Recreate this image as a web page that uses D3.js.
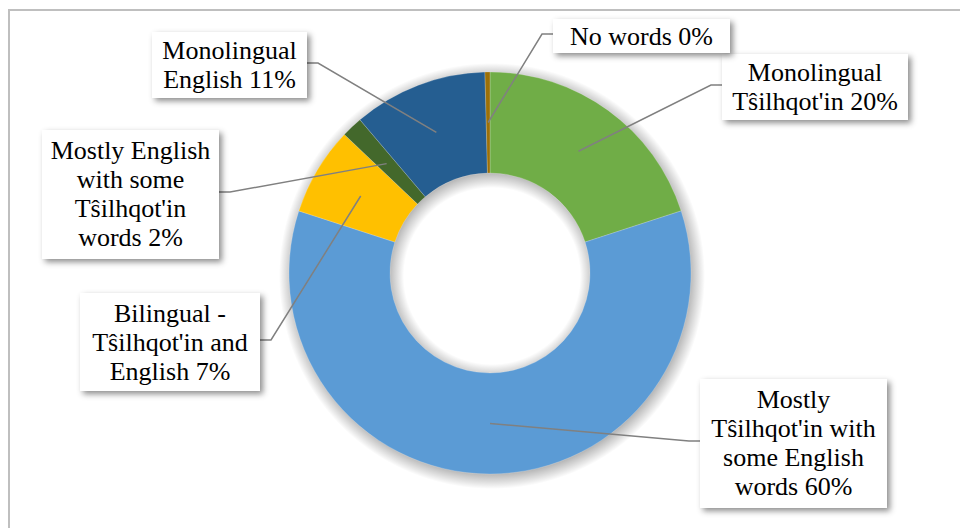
<!DOCTYPE html>
<html>
<head>
<meta charset="utf-8">
<script src="https://cdn.jsdelivr.net/npm/d3@7"></script>
<style>
  html, body { margin: 0; padding: 0; background: #fff; }
  #wrap { position: relative; width: 960px; height: 528px; overflow: hidden; }
  svg { display: block; position: absolute; left: 0; top: 0; }
  .label {
    position: absolute;
    box-sizing: border-box;
    background: #fff;
    box-shadow: 3px 3px 6px rgba(0, 0, 0, 0.45);
    display: flex;
    flex-direction: column;
    justify-content: center;
    align-items: center;
    font-family: "Liberation Serif", "Times New Roman", serif;
    font-size: 26px;
    line-height: 29px;
    color: #000;
    text-align: center;
    white-space: nowrap;
  }
</style>
</head>
<body>
<div id="wrap"><svg id="chart" width="960" height="528"></svg></div>
<script>
// Slices clockwise from 12 o'clock
const categories = [
  "Monolingual Tŝilhqot'in",
  "Mostly Tŝilhqot'in with some English words",
  "Bilingual - Tŝilhqot'in and English",
  "Mostly English with some Tŝilhqot'in words",
  "Monolingual English",
  "No words",
];
const shares = [20, 60, 7.1, 1.7, 10.8, 0.4];
const sliceColors = ["#70AD47", "#5B9BD5", "#FFC000", "#43682B", "#255E91", "#9C7008"];

// Data label text, line by line
const labelLines = [
  ["Monolingual", "Tŝilhqot'in 20%"],
  ["Mostly", "Tŝilhqot'in with", "some English", "words 60%"],
  ["Bilingual -", "Tŝilhqot'in and", "English 7%"],
  ["Mostly English", "with some", "Tŝilhqot'in", "words 2%"],
  ["Monolingual", "English 11%"],
  ["No words 0%"],
];
// label box centre, width, and which side the leader enters from
const labelPos = [
  { x: 815, y: 87, w: 186, side: "left" },
  { x: 793.5, y: 443, w: 187, side: "left" },
  { x: 170, y: 342, w: 180, side: "right" },
  { x: 130.5, y: 194, w: 177, side: "right" },
  { x: 229.5, y: 65, w: 155, side: "right" },
  { x: 641.5, y: 36, w: 177, side: "left" },
];

const svg = d3.select("#chart");
const cx = 490, cy = 273;
const outerR = 201, innerR = 100;
const blur = 12;

// soft shadow behind the ring, done with a radial gradient
const defs = svg.append("defs");
const sr0 = innerR - blur, sr1 = outerR + blur;
const grad = defs.append("radialGradient").attr("id", "ringShade")
  .attr("gradientUnits", "userSpaceOnUse")
  .attr("cx", 0).attr("cy", 0).attr("r", sr1);
[
  [sr0 / sr1, 0],
  [(innerR + 4) / sr1, 0.3],
  [(outerR - 4) / sr1, 0.3],
  [1, 0],
].forEach(([o, a]) => grad.append("stop")
  .attr("offset", o).attr("stop-color", "#000").attr("stop-opacity", a));

// chart area frame
svg.append("rect")
  .attr("x", 9).attr("y", 10).attr("width", 1000).attr("height", 600)
  .attr("fill", "none").attr("stroke", "#BFBFBF").attr("stroke-width", 2);

svg.append("path")
  .attr("transform", `translate(${cx + 2},${cy + 3})`)
  .attr("d", d3.arc().innerRadius(sr0).outerRadius(sr1).startAngle(0).endAngle(2 * Math.PI)())
  .attr("fill", "url(#ringShade)");

const pie = d3.pie().sort(null).value(d => d);
const arcs = pie(shares);
const arc = d3.arc().innerRadius(innerR).outerRadius(outerR);

svg.append("g")
  .attr("transform", `translate(${cx},${cy})`)
  .selectAll("path")
  .data(arcs)
  .join("path")
  .attr("d", arc)
  .attr("fill", (d, i) => sliceColors[i])
  .attr("stroke", "#fff")
  .attr("stroke-opacity", 0.4)
  .attr("stroke-width", 0.5);

// leader lines from slice centroid to the box
const leaders = svg.append("g");
arcs.forEach((d, i) => {
  const [ax, ay] = arc.centroid(d);
  const p = labelPos[i];
  const edge = p.side === "left" ? p.x - p.w / 2 : p.x + p.w / 2;
  const elbow = p.side === "left" ? edge - 11 : edge + 11;
  const ly = p.y - 2;
  leaders.append("polyline")
    .attr("points", [[cx + ax, cy + ay], [elbow, ly], [edge, ly]].map(q => q.join(",")).join(" "))
    .attr("fill", "none")
    .attr("stroke", "#808080")
    .attr("stroke-width", 1.5);
});

// label boxes as html so the box shadow and serif text render cleanly
d3.select("#wrap").selectAll("div.label")
  .data(labelLines)
  .join("div")
  .attr("class", "label")
  .style("left", (d, i) => `${labelPos[i].x - labelPos[i].w / 2}px`)
  .style("top", (d, i) => `${labelPos[i].y - (d.length * 31.5 + 3) / 2}px`)
  .style("width", (d, i) => `${labelPos[i].w}px`)
  .style("height", d => `${d.length * 31.5 + 3}px`)
  .selectAll("span")
  .data(d => d)
  .join("span")
  .text(s => s);
</script>
</body>
</html>
